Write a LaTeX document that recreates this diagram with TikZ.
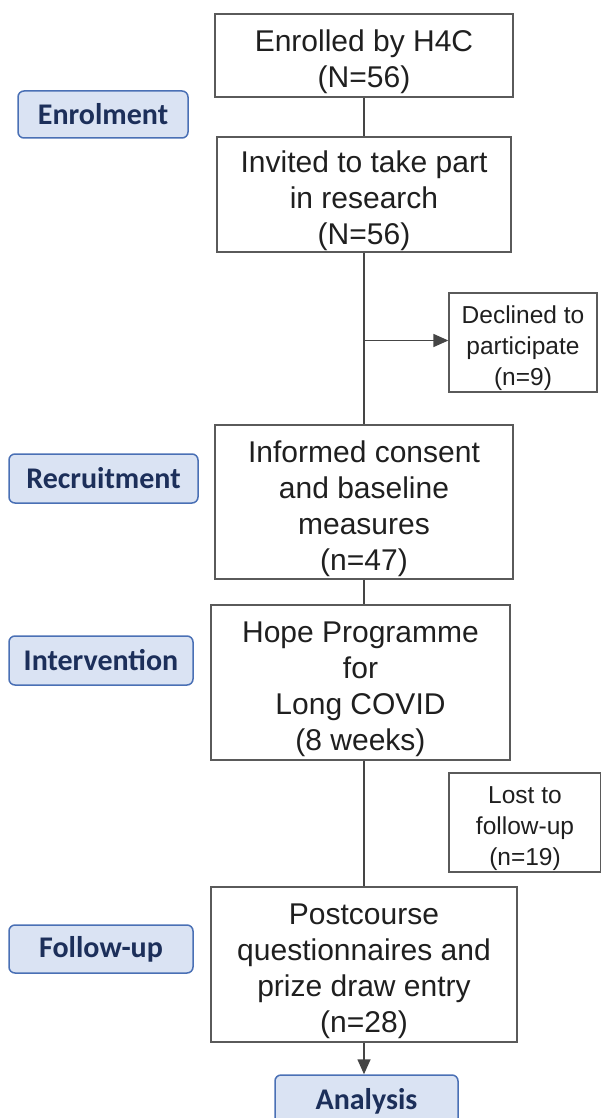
\documentclass[tikz,border=0pt]{standalone}
\usepackage{fontspec}
\setmainfont{Liberation Sans}
\newfontfamily\phasefont{Carlito}
\usetikzlibrary{arrows.meta}

\definecolor{boxgray}{HTML}{5A5A5A}
\definecolor{linegray}{HTML}{454545}
\definecolor{phasefill}{HTML}{DAE3F3}
\definecolor{phaseline}{HTML}{4A70B5}
\definecolor{phasetext}{HTML}{1C2F5A}

\newcommand{\lift}{\rule{0pt}{1.15em}}

\begin{document}
\begin{tikzpicture}[x=1pt,y=1pt,
    flowbox/.style={draw=boxgray, line width=1.3pt, align=center, inner sep=0pt,
      font=\fontsize{30}{36}\selectfont, text=black!88},
    sidebox/.style={draw=boxgray, line width=1.3pt, align=center, inner sep=0pt,
      font=\fontsize{24.5}{31}\selectfont, text=black!88},
    phase/.style={draw=phaseline, line width=1.5pt, fill=phasefill, rounded corners=6pt,
      inner sep=0pt, text=phasetext, font=\phasefont\bfseries\fontsize{30}{34}\selectfont},
    link/.style={draw=linegray, line width=1.6pt},
    arr/.style={link, -{Triangle[length=15pt,width=13pt]}}]

    \useasboundingbox (0,0) rectangle (601,-1118);

    % main column
    \node[flowbox, minimum width=298, minimum height=83] (enrolled) at (364,-55.5)
      {\lift Enrolled by H4C\\(N=56)};
    \node[flowbox, minimum width=294, minimum height=115] (invited) at (364,-194.5)
      {\lift Invited to take part\\in research\\(N=56)};
    \node[flowbox, minimum width=298, minimum height=154] (consent) at (364,-502)
      {\lift Informed consent\\and baseline\\measures\\(n=47)};
    \node[flowbox, minimum width=299, minimum height=155] (hope) at (360.5,-682.5)
      {\lift Hope Programme\\for\\Long COVID\\(8 weeks)};
    \node[flowbox, minimum width=306, minimum height=155] (post) at (364,-964.5)
      {\lift Postcourse\\questionnaires and\\prize draw entry\\(n=28)};
    \node[phase, minimum width=183, minimum height=53] (analysis) at (366.5,-1101.5)
      {Analysis};

    % side boxes
    \node[sidebox, minimum width=148, minimum height=99] (declined) at (523,-342.5)
      {\lift Declined to\\participate\\(n=9)};
    \node[sidebox, minimum width=152, minimum height=99] (lost) at (525,-822.5)
      {\lift Lost to\\follow-up\\(n=19)};

    % phase labels
    \node[phase, minimum width=170, minimum height=47] (enrolment) at (103,-114.5) {Enrolment};
    \node[phase, minimum width=189, minimum height=49] (recruitment) at (103.5,-478.5) {Recruitment};
    \node[phase, minimum width=184, minimum height=49] (intervention) at (101,-660.5) {Intervention};
    \node[phase, minimum width=184, minimum height=48] (followup) at (101,-949) {Follow-up};

    % connectors
    \coordinate (split) at (364,-340.5);
    \draw[link] (enrolled.south) -- (invited.north);
    \draw[link] (invited.south) -- (consent.north);
    \draw[arr] (split) -- (split -| declined.west);
    \draw[link] (consent.south) -- (consent.south |- hope.north);
    \draw[link] (hope.south -| consent.south) -- (post.north);
    \draw[arr] (post.south) -- (post.south |- analysis.north);
\end{tikzpicture}
\end{document}
